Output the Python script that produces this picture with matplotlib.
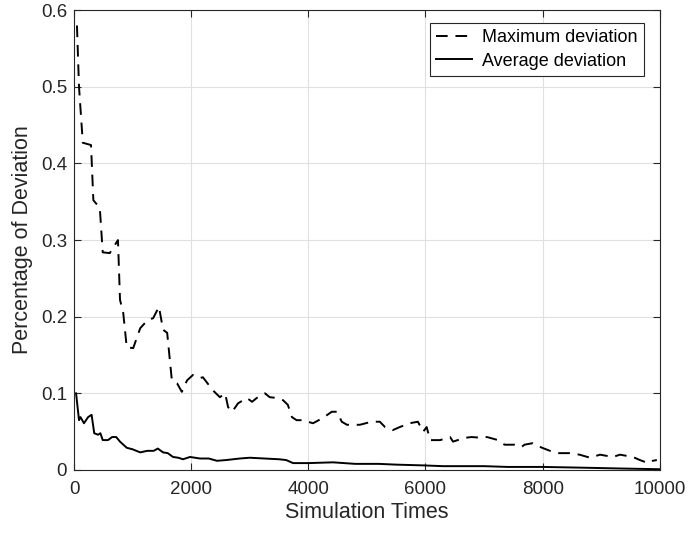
import numpy as np
import matplotlib.pyplot as plt

plt.rcParams['font.family'] = ['Liberation Sans', 'DejaVu Sans']

# maximum deviation (dashed)
max_x = [50, 85, 150, 290, 330, 440, 490, 610, 750, 785, 840, 900, 1010, 1130, 1260,
         1350, 1450, 1520, 1590, 1670, 1760, 1840, 1930, 2030, 2150, 2200, 2370, 2490,
         2580, 2630, 2700, 2800, 2950, 3040, 3120, 3260, 3340, 3460, 3570, 3650, 3720,
         3800, 3900, 4080, 4250, 4400, 4490, 4570, 4660, 4880, 5080, 5220, 5310, 5440,
         5560, 5730, 5870, 5960, 6020, 6080, 6250, 6420, 6470, 6670, 6790, 6960, 7050,
         7240, 7350, 7520, 7640, 7690, 7830, 7990, 8160, 8260, 8460, 8630, 8810, 8980,
         9200, 9320, 9540, 9660, 9800, 9880, 9950]
max_y = [0.58, 0.50, 0.427, 0.424, 0.352, 0.342, 0.284, 0.283, 0.30, 0.222, 0.205, 0.16,
         0.159, 0.185, 0.196, 0.198, 0.213, 0.183, 0.179, 0.117, 0.113, 0.102, 0.117,
         0.124, 0.12, 0.121, 0.104, 0.095, 0.100, 0.082, 0.076, 0.087, 0.094, 0.089,
         0.094, 0.100, 0.095, 0.094, 0.091, 0.085, 0.069, 0.065, 0.065, 0.061, 0.068,
         0.076, 0.076, 0.063, 0.059, 0.059, 0.063, 0.063, 0.056, 0.052, 0.056, 0.061,
         0.063, 0.050, 0.056, 0.039, 0.039, 0.043, 0.037, 0.042, 0.043, 0.042, 0.043,
         0.039, 0.033, 0.033, 0.030, 0.033, 0.035, 0.029, 0.024, 0.022, 0.022, 0.020,
         0.016, 0.020, 0.017, 0.020, 0.017, 0.013, 0.009, 0.012, 0.013]

# average deviation (solid)
avg_x = [35, 85, 110, 170, 240, 300, 345, 410, 450, 490, 580, 650, 720, 785, 900, 1000,
         1130, 1250, 1360, 1430, 1520, 1600, 1690, 1780, 1860, 1980, 2150, 2300, 2440,
         2600, 2830, 3000, 3250, 3500, 3620, 3740, 4000, 4420, 4800, 5200, 5500, 5960,
         6300, 7000, 7400, 8000, 8700, 9300, 10000]
avg_y = [0.100, 0.065, 0.069, 0.061, 0.069, 0.072, 0.048, 0.046, 0.048, 0.039, 0.039,
         0.043, 0.043, 0.037, 0.029, 0.027, 0.023, 0.025, 0.025, 0.028, 0.023, 0.022,
         0.017, 0.016, 0.014, 0.017, 0.015, 0.015, 0.012, 0.013, 0.015, 0.016, 0.015,
         0.014, 0.013, 0.009, 0.009, 0.010, 0.008, 0.008, 0.007, 0.006, 0.005, 0.005,
         0.004, 0.004, 0.003, 0.002, 0.001]

fig = plt.figure(figsize=(6.88, 5.35), dpi=100)
ax = fig.add_axes([0.1076, 0.1215, 0.8514, 0.8595])

ax.plot(max_x, max_y, color='black', linestyle=(0, (6, 4)), linewidth=1.4, label='Maximum deviation')
ax.plot(avg_x, avg_y, color='black', linestyle='-', linewidth=1.4, label='Average deviation')

ax.set_xlim(0, 10000)
ax.set_ylim(0, 0.6)
ax.set_xticks(np.arange(0, 10001, 2000))
ax.set_yticks(np.arange(0, 0.61, 0.1))
ax.set_yticklabels(['0', '0.1', '0.2', '0.3', '0.4', '0.5', '0.6'])
ax.grid(True, color='#e0e0e0', linewidth=0.8)
ax.set_axisbelow(True)
ax.tick_params(direction='in', top=True, right=True, labelsize=13.5, colors='#262626', length=5)
ax.tick_params(axis='x', pad=8)
ax.tick_params(axis='y', pad=5)
for s in ax.spines.values():
    s.set_color('#262626')
    s.set_linewidth(0.8)
ax.set_xlabel('Simulation Times', fontsize=15.5, color='#262626', labelpad=3)
ax.set_ylabel('Percentage of Deviation', fontsize=15.5, color='#262626', labelpad=6)

leg = ax.legend(loc='upper right', fontsize=13, fancybox=False, framealpha=1,
                edgecolor='#262626', handlelength=2.0, handletextpad=0.55,
                borderpad=0.35, labelspacing=0.35, borderaxespad=0,
                bbox_to_anchor=(644 / 688 - 0.1076 + 0.1076, 1 - 23 / 535),
                bbox_transform=fig.transFigure)
leg.get_frame().set_linewidth(0.8)

plt.savefig('out.png', dpi=100)
